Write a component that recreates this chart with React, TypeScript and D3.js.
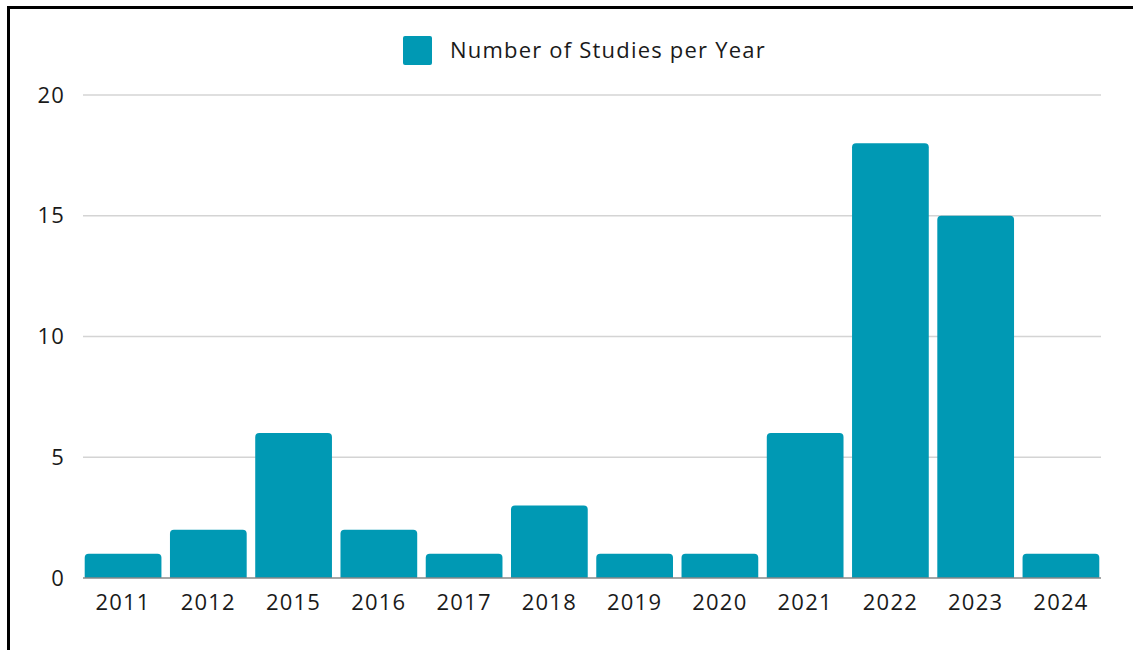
import React, { useRef, useEffect } from 'react';
import * as d3 from 'd3';

const years = ['2011', '2012', '2015', '2016', '2017', '2018', '2019', '2020', '2021', '2022', '2023', '2024'];
const studies = [1, 2, 6, 2, 1, 3, 1, 1, 6, 18, 15, 1];
const yTicks = [0, 5, 10, 15, 20];
const seriesName = 'Number of Studies per Year';

const W = 1133;
const H = 650;
const margin = { top: 95, right: 32, bottom: 72, left: 83 };
const barColor = '#0099b4';
const font = '"Open Sans", sans-serif';
const fontSize = 22;
const spacing = '1.2px';

const App = () => {
  const svgRef = useRef<SVGSVGElement>(null);

  useEffect(() => {
    const svg = d3.select(svgRef.current);
    svg.selectAll('*').remove();

    const x = d3.scaleBand()
      .domain(years)
      .range([margin.left, W - margin.right])
      .paddingInner(0.1)
      .paddingOuter(0.02);
    const y = d3.scaleLinear().domain([0, 20]).range([H - margin.bottom, margin.top]);

    // frame
    svg.append('line').attr('x1', 8.5).attr('x2', 8.5).attr('y1', 6).attr('y2', H)
      .attr('stroke', '#000').attr('stroke-width', 3);
    svg.append('line').attr('x1', 7).attr('x2', W).attr('y1', 7.5).attr('y2', 7.5)
      .attr('stroke', '#000').attr('stroke-width', 3);

    // grid
    const grid = svg.append('g');
    grid.selectAll('line').data(yTicks.filter(d => d > 0)).join('line')
      .attr('x1', margin.left).attr('x2', W - margin.right)
      .attr('y1', d => y(d)).attr('y2', d => y(d))
      .attr('stroke', '#d4d4d4').attr('stroke-width', 1.5);

    // y labels
    svg.append('g').selectAll('text').data(yTicks).join('text')
      .attr('x', 65).attr('y', d => y(d))
      .attr('dy', '0.35em')
      .attr('text-anchor', 'end')
      .attr('font-family', font).attr('font-size', fontSize).attr('fill', '#1a1a1a')
      .attr('letter-spacing', spacing)
      .text(d => d);

    // bars with rounded tops
    const r = 4;
    svg.append('g').selectAll('path').data(studies).join('path')
      .attr('fill', barColor)
      .attr('d', (d, i) => {
        const x0 = x(years[i])!;
        const bw = x.bandwidth();
        const y0 = y(d);
        const yb = y(0);
        const p = d3.path();
        p.moveTo(x0, yb);
        p.lineTo(x0, y0 + r);
        p.arcTo(x0, y0, x0 + r, y0, r);
        p.lineTo(x0 + bw - r, y0);
        p.arcTo(x0 + bw, y0, x0 + bw, y0 + r, r);
        p.lineTo(x0 + bw, yb);
        p.closePath();
        return p.toString();
      });

    // baseline
    svg.append('line')
      .attr('x1', margin.left).attr('x2', W - margin.right)
      .attr('y1', y(0)).attr('y2', y(0))
      .attr('stroke', '#888').attr('stroke-width', 1.5);

    // x labels
    svg.append('g').selectAll('text').data(years).join('text')
      .attr('x', d => x(d)! + x.bandwidth() / 2)
      .attr('y', y(0) + 24)
      .attr('dy', '0.35em')
      .attr('text-anchor', 'middle')
      .attr('font-family', font).attr('font-size', fontSize).attr('fill', '#1a1a1a')
      .attr('letter-spacing', spacing)
      .text(d => d);

    // legend
    const lg = svg.append('g');
    lg.append('rect').attr('x', 403).attr('y', 36).attr('width', 29).attr('height', 29)
      .attr('rx', 2).attr('fill', barColor);
    lg.append('text').attr('x', 450).attr('y', 50).attr('dy', '0.35em')
      .attr('font-family', font).attr('font-size', fontSize).attr('fill', '#1a1a1a')
      .attr('letter-spacing', spacing)
      .text(seriesName);
  }, []);

  return (
    <div style={{ position: 'absolute', left: 0, top: 0 }}>
      <svg ref={svgRef} width={W} height={H} style={{ display: 'block', background: '#fff' }} />
    </div>
  );
};

export default App;
